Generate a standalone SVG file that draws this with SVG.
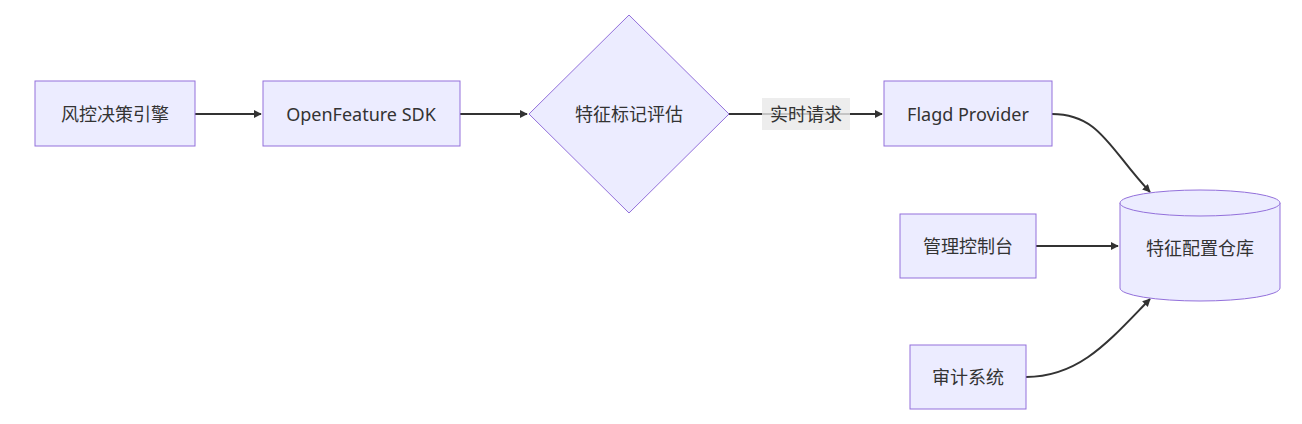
<svg xmlns="http://www.w3.org/2000/svg" width="1302" height="424" viewBox="0 0 1302 424">
<style>
.n{fill:#ECECFF;stroke:#9370DB;stroke-width:1}
.t{font-family:"Noto Sans","Noto Sans CJK SC",sans-serif;font-size:18px;fill:#333;text-anchor:middle;dominant-baseline:central}
.e{fill:none;stroke:#333;stroke-width:2;marker-end:url(#a)}
</style>
<defs><marker id="a" viewBox="0 0 10 10" refX="9" refY="5" markerWidth="8" markerHeight="8" orient="auto" markerUnits="userSpaceOnUse"><path d="M0,0L10,5L0,10z" fill="#333"/></marker></defs>
<rect width="1302" height="424" fill="#fff"/>
<g id="edges">
<path class="e" d="M195,114H261"/>
<path class="e" d="M460,114H527"/>
<path class="e" d="M729,114H882"/>
<path class="e" d="M1052,114C1100,114 1110,150 1150,192"/>
<path class="e" d="M1036,246H1118"/>
<path class="e" d="M1026,377C1080,377 1110,340 1150,299"/>
<rect x="762" y="98" width="88" height="32" fill="#e8e8e8" opacity="0.8"/>
<text class="t" x="806" y="114">实时请求</text>
</g>
<g id="n1"><rect class="n" x="35" y="81" width="160" height="65"/><text class="t" x="115" y="114">风控决策引擎</text></g>
<g id="n2"><rect class="n" x="263" y="81" width="197" height="65"/><text class="t" x="361" y="114">OpenFeature SDK</text></g>
<g id="n3"><polygon class="n" points="629,15 729,114 629,213 529,114"/><text class="t" x="629" y="114">特征标记评估</text></g>
<g id="n4"><rect class="n" x="884" y="81" width="168" height="65"/><text class="t" x="968" y="114">Flagd Provider</text></g>
<g id="n5"><rect class="n" x="900" y="214" width="136" height="64"/><text class="t" x="968" y="246">管理控制台</text></g>
<g id="n6"><rect class="n" x="910" y="345" width="116" height="64"/><text class="t" x="968" y="377">审计系统</text></g>
<g id="n7"><path class="n" d="M1120,203A80,13 0 0 1 1280,203V288A80,13 0 0 1 1120,288Z"/><path class="n" fill="none" d="M1120,203A80,13 0 0 0 1280,203"/><text class="t" x="1200" y="248">特征配置仓库</text></g>
</svg>
